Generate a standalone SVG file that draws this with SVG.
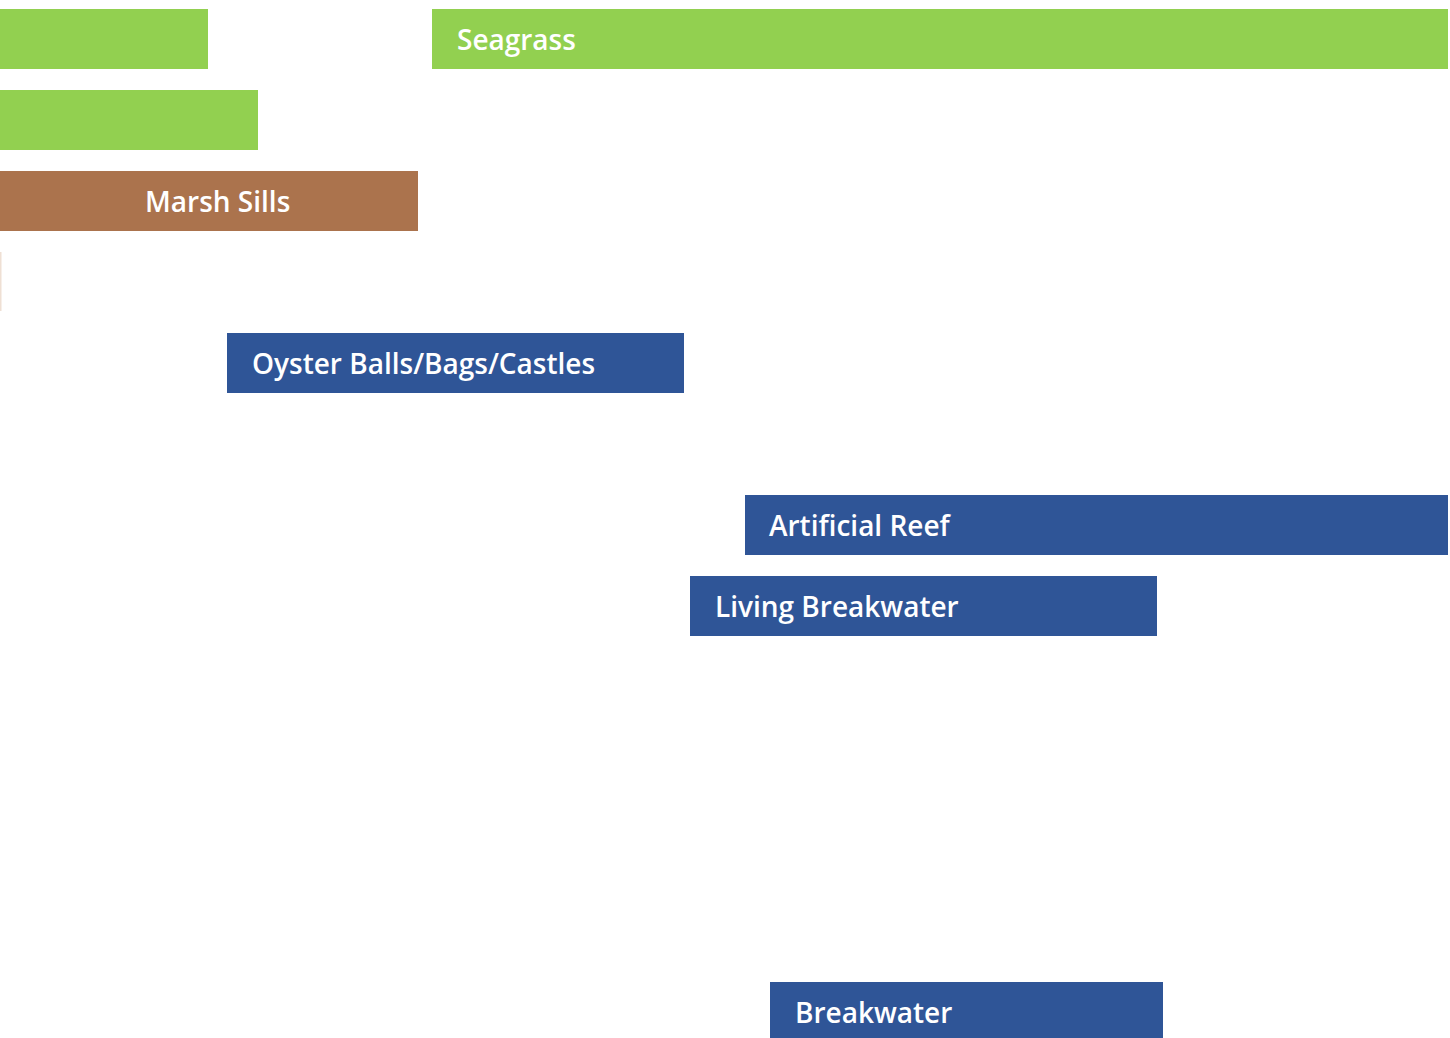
<svg xmlns="http://www.w3.org/2000/svg" width="1450" height="1038" viewBox="0 0 1450 1038">
<style>
.g{fill:#92D050}
.b{fill:#2F5597}
.br{fill:#AB734D}
.t{font-family:"Open Sans","Noto Sans","Liberation Sans",sans-serif;font-size:28px;font-weight:600;fill:#ffffff}
</style>
<rect width="1450" height="1038" fill="#ffffff"/>
<g id="bar-green-1"><rect class="g" x="0" y="9" width="208" height="60"/></g>
<g id="bar-green-2"><rect class="g" x="0" y="90" width="258" height="60"/></g>
<g id="seagrass"><rect class="g" x="432" y="9" width="1016" height="60"/><text class="t" x="457" y="50">Seagrass</text></g>
<g id="marsh-sills"><rect class="br" x="0" y="171" width="418" height="60"/><text class="t" x="145" y="212">Marsh Sills</text></g>
<g id="thin-bar"><rect x="0" y="252" width="1.5" height="59" fill="#EFE0D4"/></g>
<g id="oyster"><rect class="b" x="227" y="333" width="457" height="60"/><text class="t" x="252" y="374">Oyster Balls/Bags/Castles</text></g>
<g id="artificial-reef"><rect class="b" x="745" y="495" width="703" height="60"/><text class="t" x="769" y="536">Artificial Reef</text></g>
<g id="living-breakwater"><rect class="b" x="690" y="576" width="467" height="60"/><text class="t" x="715" y="617">Living Breakwater</text></g>
<g id="breakwater"><rect class="b" x="770" y="982" width="393" height="56"/><text class="t" x="795" y="1023">Breakwater</text></g>
<g id="connectors"></g>
</svg>
